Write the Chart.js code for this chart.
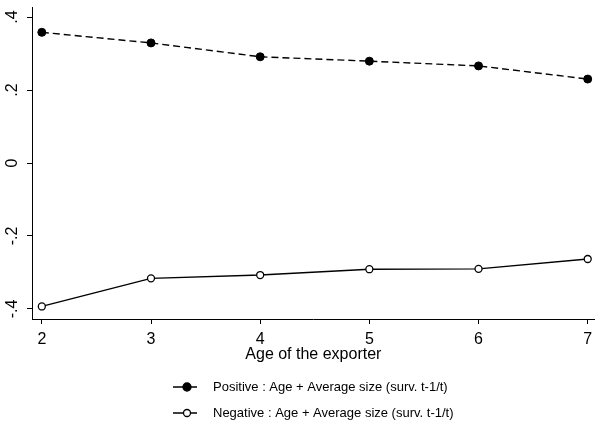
<!DOCTYPE html>
<html>
<head>
<meta charset="utf-8">
<script src="https://cdn.jsdelivr.net/npm/chart.js@4"></script>
<style>
    body { margin: 0; background: #fff; }
    #wrap { width: 600px; height: 423px; }
</style>
</head>
<body>
<div id="wrap"><canvas id="lineChart" width="600" height="423"></canvas></div>
<script>
const ages = [2, 3, 4, 5, 6, 7];
const positive = [0.358, 0.329, 0.291, 0.279, 0.266, 0.230];
const negative = [-0.393, -0.316, -0.307, -0.291, -0.290, -0.263];
const yTicks = [-0.4, -0.2, 0, 0.2, 0.4];
const yTickLabels = ["-.4", "-.2", "0", ".2", ".4"];
const xTicks = [2, 3, 4, 5, 6, 7];
const seriesNames = [
    "Positive : Age + Average size (surv. t-1/t)",
    "Negative : Age + Average size (surv. t-1/t)"
];

const FONT = "'Liberation Sans', Arial, sans-serif";

// y tick labels are rotated, draw them ourselves; legend too
const extras = {
    id: "extras",
    afterDraw(chart) {
        const ctx = chart.ctx;
        const y = chart.scales.y;
        ctx.save();
        ctx.fillStyle = "#000";
        ctx.font = "16px " + FONT;
        ctx.textAlign = "center";
        ctx.textBaseline = "middle";
        yTicks.forEach((v, i) => {
            ctx.save();
            ctx.translate(13, y.getPixelForValue(v));
            ctx.rotate(-Math.PI / 2);
            ctx.fillText(yTickLabels[i], 0, 0);
            ctx.restore();
        });

        // legend
        const rows = [387, 413];
        ctx.font = "13px " + FONT;
        ctx.textAlign = "left";
        rows.forEach((ry, i) => {
            ctx.strokeStyle = "#000";
            ctx.lineWidth = 1.5;
            ctx.beginPath();
            ctx.moveTo(173, ry);
            ctx.lineTo(197, ry);
            ctx.stroke();
            ctx.beginPath();
            ctx.arc(187, ry, i === 0 ? 4 : 3.5, 0, Math.PI * 2);
            ctx.fillStyle = i === 0 ? "#000" : "#fff";
            ctx.fill();
            ctx.lineWidth = 1.3;
            ctx.stroke();
            ctx.fillStyle = "#000";
            ctx.fillText(seriesNames[i], 213, ry);
        });
        ctx.restore();
    }
};

const ctx = document.getElementById("lineChart").getContext("2d");
new Chart(ctx, {
    type: "line",
    data: {
        datasets: [
            {
                label: seriesNames[0],
                data: ages.map((a, i) => ({ x: a, y: positive[i] })),
                borderColor: "#000",
                borderWidth: 1.4,
                borderDash: [7, 4],
                pointRadius: 4,
                pointBackgroundColor: "#000",
                pointBorderColor: "#000",
                pointBorderWidth: 1,
                tension: 0
            },
            {
                label: seriesNames[1],
                data: ages.map((a, i) => ({ x: a, y: negative[i] })),
                borderColor: "#000",
                borderWidth: 1.4,
                pointRadius: 3.5,
                pointBackgroundColor: "#fff",
                pointBorderColor: "#000",
                pointBorderWidth: 1.3,
                tension: 0
            }
        ]
    },
    options: {
        responsive: false,
        animation: false,
        layout: { padding: { top: 7, left: 0, right: 0, bottom: 59 } },
        plugins: {
            legend: { display: false },
            tooltip: { enabled: false }
        },
        scales: {
            x: {
                type: "linear",
                min: 1.91,
                max: 7.064,
                afterBuildTicks: s => { s.ticks = xTicks.map(v => ({ value: v })); },
                afterFit: s => { s.height = 45; },
                border: { display: true, color: "#000", width: 1 },
                grid: { display: true, drawOnChartArea: false, drawTicks: true, tickLength: 5, color: "#000" },
                ticks: {
                    color: "#000",
                    padding: 6,
                    maxRotation: 0,
                    autoSkip: false,
                    font: { family: FONT, size: 16 },
                    callback: v => String(v)
                },
                title: {
                    display: true,
                    text: "Age of the exporter",
                    color: "#000",
                    font: { family: FONT, size: 16 },
                    padding: { top: 0, bottom: 0 }
                }
            },
            y: {
                type: "linear",
                min: -0.4274,
                max: 0.4274,
                afterBuildTicks: s => { s.ticks = yTicks.map(v => ({ value: v })); },
                afterFit: s => { s.width = 32; },
                border: { display: true, color: "#000", width: 1 },
                grid: { display: true, drawOnChartArea: false, drawTicks: true, tickLength: 5, color: "#000" },
                ticks: { display: false }
            }
        }
    },
    plugins: [extras]
});
</script>
</body>
</html>
